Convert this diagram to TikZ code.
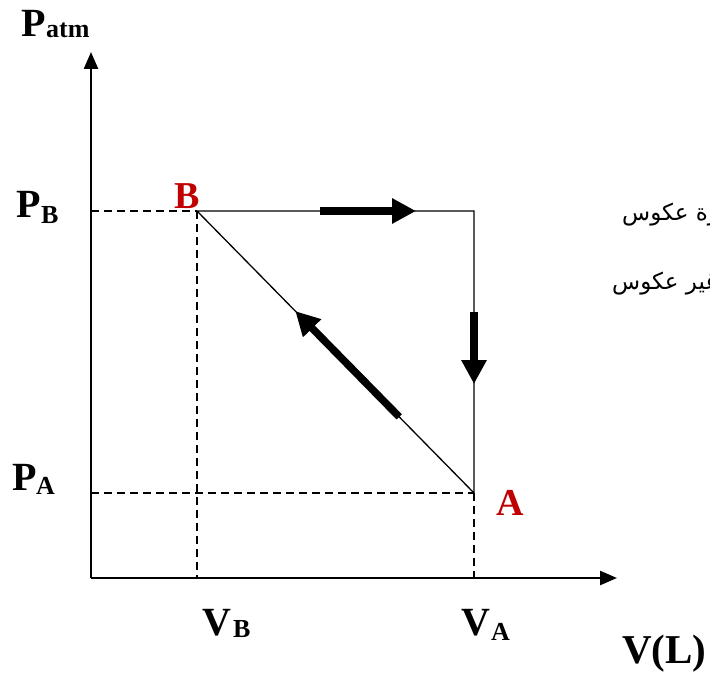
\documentclass[tikz,border=0pt]{standalone}
\usepackage{fontspec}
\setmainfont{Liberation Serif}
\newfontfamily\arabicfont[Script=Arabic]{DejaVu Sans}
\TeXXeTstate=1
\usetikzlibrary{arrows.meta,calc}
\definecolor{labred}{RGB}{192,0,0}
\begin{document}
\begin{tikzpicture}[x=1pt,y=-1pt,
  axis/.style={line width=2.5pt,-{Triangle[length=17pt,width=14pt]}},
  edge/.style={line width=1.3pt},
  guide/.style={line width=1.3pt,dash pattern=on 8pt off 5pt},
  bigarrow/.style={line width=7.5pt,-{Triangle[length=24pt,width=24pt]}},
  lab/.style={font=\bfseries\fontsize{40}{40}\selectfont,inner sep=0pt,anchor=base west},
  sublab/.style={font=\bfseries\fontsize{26}{26}\selectfont,inner sep=0pt,anchor=base west},
  ptlab/.style={font=\bfseries\fontsize{38}{38}\selectfont,text=labred,inner sep=0pt,anchor=base west},
  note/.style={font=\arabicfont\fontsize{23}{23}\selectfont,inner sep=0pt,anchor=base west}]
\useasboundingbox (0,0) rectangle (710,677);
\clip (0,0) rectangle (710,677);
% key points
\coordinate (O) at (91,578);
\coordinate (Ytop) at (91,52);
\coordinate (Xend) at (617,578);
\coordinate (B) at (197,211);
\coordinate (C) at (474,211);
\coordinate (A) at (474,493);
\coordinate (PB) at (91,211);
\coordinate (PA) at (91,493);
\coordinate (VB) at (197,578);
\coordinate (VA) at (474,578);
% axes
\draw[axis] (O) -- (Ytop);
\draw[axis] (O) -- (Xend);
% guides
\draw[guide] (PB) -- (B);
\draw[guide] (PA) -- (A);
\draw[guide] (B) -- (VB);
\draw[guide] (A) -- (VA);
% cycle
\draw[edge] (B) -- (C) -- (A) -- cycle;
% thick arrows
\coordinate (t1) at (320,211);
\coordinate (t2) at (416,211);
\coordinate (v1) at (474,312);
\coordinate (v2) at (474,384);
\coordinate (d1) at ($(A)!0.27!(B)$);
\coordinate (d2) at ($(A)!0.645!(B)$);
\draw[bigarrow] (t1) -- (t2);
\draw[bigarrow] (v1) -- (v2);
\draw[bigarrow] (d1) -- (d2);
% labels
\node[lab] (Patm) at (21,37) {P};
\node[sublab] (Patms) at (46,38) {atm};
\node[lab] (PBl) at (16,217) {P};
\node[sublab] (PBs) at (41,223) {B};
\node[lab] (PAl) at (12,490) {P};
\node[sublab] (PAs) at (36,494) {A};
\node[lab] (VBl) at (202,635) {V};
\node[sublab] (VBs) at (233,637) {B};
\node[lab] (VAl) at (461,635) {V};
\node[sublab] (VAs) at (491,640) {A};
\node[lab,font=\bfseries\fontsize{41}{41}\selectfont] (VL) at (622,663) {V(L)};
\node[ptlab] (Bl) at (174,208) {B};
\node[ptlab] (Al) at (496,515) {A};
% legend (cut at the right edge)
\node[note] (n1) at (622,220) {\beginR دورة عكوس\endR};
\node[note] (n2) at (612,289) {\beginR غير عكوس\endR};
\end{tikzpicture}
\end{document}
